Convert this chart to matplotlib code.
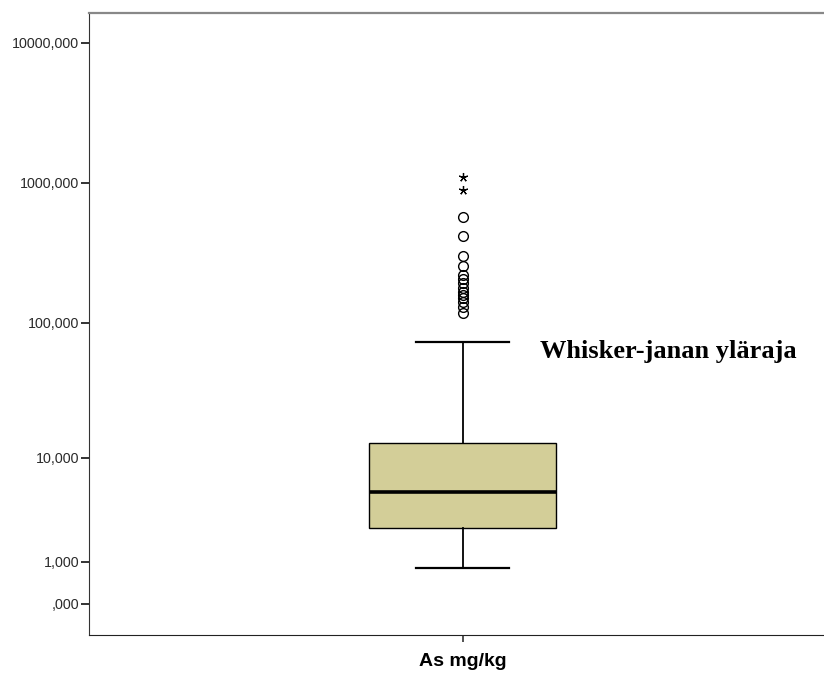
import numpy as np
from matplotlib import pyplot as plt

# box statistics for As mg/kg
label = 'As mg/kg'
q1 = 2.48
median = 5.29
q3 = 12.93
whisker_low = 0.79
whisker_high = 72.8
outliers = [574, 418, 302, 255, 220, 206, 192, 177, 167, 158, 150, 141, 129, 117]
extremes = [1108, 890]

yticks = [0, 1, 10, 100, 1000, 10000]
ytick_labels = [',000', '1,000', '10,000', '100,000', '1000,000', '10000,000']


# SPSS style "safe" log scale: log10(1 + x)
def fwd(x):
    x = np.asarray(x, dtype=float)
    return np.sign(x) * np.log10(1 + np.abs(x))


def inv(y):
    y = np.asarray(y, dtype=float)
    return np.sign(y) * (10 ** np.abs(y) - 1)


fig = plt.figure(figsize=(8.24, 6.73), dpi=100)
ax = fig.add_axes([89 / 824, 38 / 673, 747 / 824, 622.3 / 673])
ax.set_yscale('function', functions=(fwd, inv))

stats = [{'med': median, 'q1': q1, 'q3': q3, 'whislo': whisker_low,
          'whishi': whisker_high, 'fliers': outliers, 'label': label}]
ax.bxp(stats, positions=[1], widths=0.25, patch_artist=True, capwidths=0.125,
       boxprops=dict(facecolor='#D3CE98', edgecolor='black', linewidth=1.0),
       medianprops=dict(color='black', linewidth=2.6),
       whiskerprops=dict(color='black', linewidth=1.3),
       capprops=dict(color='black', linewidth=1.6),
       flierprops=dict(marker='o', markersize=7, markerfacecolor='none',
                       markeredgecolor='black', markeredgewidth=1.0))
ax.plot([1] * len(extremes), extremes, linestyle='none', marker=(5, 2, 0),
        markersize=6.5, color='black', markeredgewidth=0.9)

ax.set_xlim(0.5, 1.5)
ax.set_ylim(inv(-0.223), inv(4.214))
ax.set_yticks(yticks)
ax.set_yticklabels(ytick_labels)
ax.minorticks_off()

ax.tick_params(axis='y', length=6, width=1.4, color='#333333', labelsize=10.3,
               labelcolor='#2a2a2a', pad=1)
ax.tick_params(axis='x', length=5, width=1.2, color='#333333', pad=8)
for t in ax.get_xticklabels():
    t.set_fontsize(14)
    t.set_fontweight('bold')
    t.set_fontfamily('Liberation Sans')
for t in ax.get_yticklabels():
    t.set_fontfamily('Liberation Sans')

ax.spines['left'].set_color('#333333')
ax.spines['bottom'].set_color('#222222')
ax.spines['top'].set_color('#888888')
ax.spines['top'].set_linewidth(1.6)
ax.spines['right'].set_visible(False)

fig.text(540 / 824, 1 - 358 / 673, 'Whisker-janan yläraja', fontsize=19,
         fontweight='bold', family='Liberation Serif', va='baseline', ha='left')

plt.savefig('out.png', dpi=100)
